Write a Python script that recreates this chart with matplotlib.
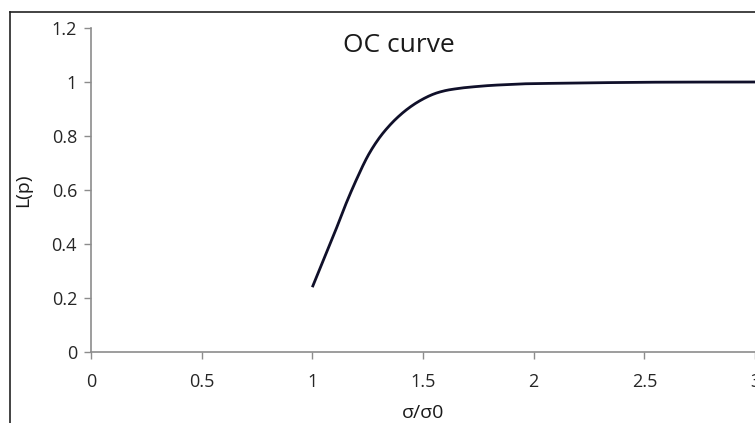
import numpy as np
import matplotlib
matplotlib.use("Agg")
import matplotlib.pyplot as plt
from matplotlib.lines import Line2D

# values
ratio = [1.0, 1.05, 1.1, 1.15, 1.2, 1.25, 1.3, 1.35, 1.4, 1.45, 1.5, 1.55,
         1.6, 1.65, 1.7, 1.8, 1.9, 2.0, 2.5, 3.0]
L_p = [0.24, 0.34, 0.44, 0.545, 0.64, 0.725, 0.79, 0.84, 0.88, 0.912, 0.937,
       0.956, 0.968, 0.975, 0.980, 0.987, 0.991, 0.994, 0.999, 1.0]

x_ticks = [0, 0.5, 1, 1.5, 2, 2.5, 3]
x_ticklabels = ["0", "0.5", "1", "1.5", "2", "2.5", "3"]
y_ticks = [0, 0.2, 0.4, 0.6, 0.8, 1, 1.2]
y_ticklabels = ["0", "0.2", "0.4", "0.6", "0.8", "1", "1.2"]


def smooth_line(xs, ys, n=20):
    # catmull-rom, like excel's "smoothed line" option
    xs = np.asarray(xs, float)
    ys = np.asarray(ys, float)
    px = np.concatenate([[2 * xs[0] - xs[1]], xs, [2 * xs[-1] - xs[-2]]])
    py = np.concatenate([[2 * ys[0] - ys[1]], ys, [2 * ys[-1] - ys[-2]]])
    t = np.linspace(0, 1, n, endpoint=False)
    ox, oy = [], []
    for i in range(1, len(px) - 2):
        for p, o in ((px, ox), (py, oy)):
            p0, p1, p2, p3 = p[i - 1], p[i], p[i + 1], p[i + 2]
            o.extend(0.5 * (2 * p1 + (-p0 + p2) * t
                            + (2 * p0 - 5 * p1 + 4 * p2 - p3) * t ** 2
                            + (-p0 + 3 * p1 - 3 * p2 + p3) * t ** 3))
    ox.append(xs[-1])
    oy.append(ys[-1])
    return ox, oy


plt.rcParams['font.family'] = ['Open Sans', 'DejaVu Sans']

W, H = 755, 423
fig = plt.figure(figsize=(W / 100, H / 100), dpi=100)

# plot area in pixels: x 0 -> 91, x 3 -> 755 ; y 0 -> 352, y 1.2 -> 28
ax = fig.add_axes([91 / W, 1 - 352 / H, (755 - 91) / W, (352 - 28) / H])
sx, sy = smooth_line(ratio, L_p)
ax.plot(sx, sy, color='#10102a', lw=2.0, solid_capstyle='butt')

ax.set_xlim(0, 3)
ax.set_ylim(0, 1.2)
ax.set_xticks(x_ticks)
ax.set_xticklabels(x_ticklabels)
ax.set_yticks(y_ticks)
ax.set_yticklabels(y_ticklabels)

for s in ['top', 'right']:
    ax.spines[s].set_visible(False)
for s in ['left', 'bottom']:
    ax.spines[s].set_color('#8c8c8c')
    ax.spines[s].set_linewidth(1.2)
ax.tick_params(axis='both', colors='#8c8c8c', length=5, width=1.0,
               labelcolor='#262626', labelsize=13)
ax.tick_params(axis='x', pad=10)
ax.tick_params(axis='y', pad=5)

fig.text(399 / W, 1 - 46 / H, "OC curve", ha='center', va='center',
         fontsize=19, color='#1a1a1a')
fig.text(23 / W, 1 - 190 / H, "L(p)", ha='center', va='center', rotation=90,
         fontsize=14, color='#1a1a1a')
fig.text(423 / W, 1 - 413 / H, "σ/σ0", ha='center', va='center',
         fontsize=14, color='#1a1a1a')

# chart border (cropped on right and bottom)
fig.add_artist(Line2D([9.5 / W, 9.5 / W], [0, 1 - 12 / H], transform=fig.transFigure,
                      color='#222222', lw=1.2))
fig.add_artist(Line2D([9.5 / W, 1], [1 - 12 / H, 1 - 12 / H], transform=fig.transFigure,
                      color='#222222', lw=1.2))

fig.savefig("out.png", dpi=100)
